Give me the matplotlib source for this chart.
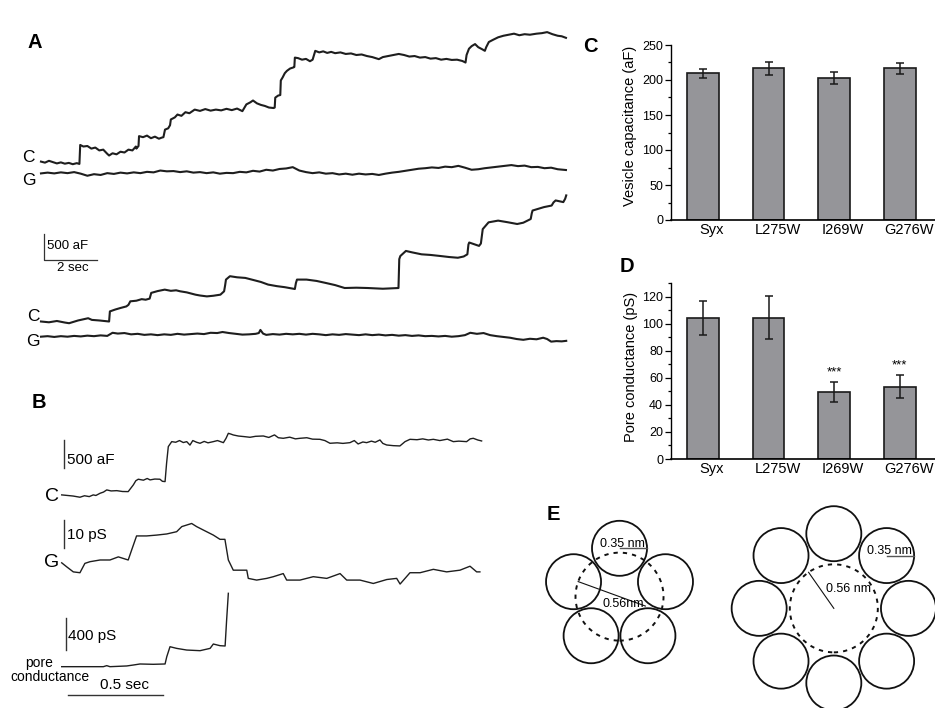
import matplotlib
matplotlib.use('Agg')
import matplotlib.pyplot as plt
import matplotlib.transforms as mtransforms
import numpy as np
from matplotlib.patches import Circle
from matplotlib.ticker import MultipleLocator

plt.rcParams['font.family'] = ['Liberation Sans', 'DejaVu Sans']

# ---------------- data ----------------
# Panel A, trace 1 (time in s, capacitance in aF, relative to start)
a1_c_t = [0.00, 0.15, 0.30, 0.45, 0.60, 0.75, 0.90, 1.05, 1.20, 1.35, 1.45, 1.48, 1.60, 1.75,
          1.90, 2.05, 2.20, 2.35, 2.50, 2.57, 2.70, 2.85, 3.00, 3.15, 3.30, 3.45, 3.58, 3.60,
          3.68, 3.70, 3.85, 4.00, 4.15, 4.30, 4.45, 4.55, 4.62, 4.68, 4.80, 4.87, 4.90, 5.05,
          5.15, 5.30, 5.45, 5.60, 5.80, 6.00, 6.20, 6.40, 6.60, 6.80, 7.00, 7.20, 7.40, 7.60,
          7.75, 7.90, 8.00, 8.15, 8.30, 8.45, 8.60, 8.78, 8.82, 8.84, 8.95, 9.03, 9.05, 9.12,
          9.20, 9.28, 9.40, 9.52, 9.56, 9.58, 9.70, 9.85, 10.00, 10.15, 10.25, 10.35, 10.50,
          10.65, 10.80, 10.95, 11.10, 11.30, 11.50, 11.70, 11.90, 12.10, 12.30, 12.50, 12.75,
          12.90, 13.10, 13.30, 13.50, 13.70, 13.90, 14.10, 14.30, 14.50, 14.70, 14.90, 15.10,
          15.30, 15.50, 15.70, 15.90, 16.02, 16.06, 16.15, 16.25, 16.38, 16.50, 16.65, 16.75,
          16.80, 16.90, 17.05, 17.25, 17.45, 17.65, 17.85, 18.05, 18.25, 18.45, 18.70, 18.90,
          19.10, 19.30, 19.50, 19.65, 19.81]
a1_c_af = [0, -20, 15, -10, -35, -15, -40, -25, -50, -30, -45, 320, 290, 300,
           250, 270, 215, 230, 150, 117, 160, 140, 190, 175, 230, 215, 290, 250,
           300, 490, 470, 500, 450, 480, 440, 460, 470, 615, 640, 700, 810, 850,
           905, 880, 950, 930, 1000, 975, 1010, 980, 1000, 985, 1015, 990, 1020, 970,
           1100, 1140, 1175, 1120, 1090, 1070, 1040, 1030, 1040, 1230, 1270, 1280, 1560, 1620,
           1700, 1745, 1790, 1810, 1820, 2000, 1990, 1960, 1975, 1930, 1960, 2130, 2100,
           2120, 2090, 2110, 2085, 2100, 2070, 2080, 2050, 2060, 2030, 2010, 1970,
           2010, 2030, 2050, 2070, 2050, 2020, 2030, 2000, 2010, 1980, 1990, 1960,
           1975, 1955, 1960, 1935, 1905, 2050, 2170, 2220, 2260, 2200, 2160, 2130,
           2200, 2300, 2340, 2390, 2420, 2440, 2460, 2430, 2450, 2440, 2460, 2470,
           2490, 2450, 2420, 2410, 2380]
a1_g_t = [0.0, 0.25, 0.5, 0.75, 1.0, 1.25, 1.5, 1.75, 2.0, 2.25, 2.5, 2.75, 3.0, 3.25, 3.5,
          3.75, 4.0, 4.25, 4.5, 4.75, 5.0, 5.25, 5.5, 5.75, 6.0, 6.25, 6.5, 6.75, 7.0, 7.25,
          7.5, 7.75, 8.0, 8.25, 8.5, 8.75, 9.0, 9.25, 9.5, 9.75, 10.0, 10.25, 10.5, 10.75,
          11.0, 11.25, 11.5, 11.75, 12.0, 12.25, 12.5, 12.75, 13.0, 13.25, 13.5, 13.75, 14.0,
          14.25, 14.5, 14.75, 15.0, 15.25, 15.5, 15.75, 16.0, 16.25, 16.5, 16.75, 17.0, 17.25,
          17.5, 17.75, 18.0, 18.25, 18.5, 18.75, 19.0, 19.25, 19.5, 19.81]
a1_g = [0, 15, 0, 20, 5, 25, -5, -45, -15, -30, 5, -10, 15, 0, 20,
        5, 30, 20, 55, 40, 45, 25, 40, 15, 25, 5, 20, -5, 10, 5,
        30, 20, 50, 35, 70, 55, 85, 95, 120, 55, 25, 5, 20, -5,
        5, -20, -5, -25, -5, -20, -10, -30, -5, 15, 30, 50, 70,
        90, 100, 115, 105, 130, 120, 145, 110, 70, 80, 100, 115, 130,
        145, 160, 140, 150, 120, 125, 100, 110, 80, 65]

# Panel A, trace 2
a2_c_t = [0, 0.3, 0.6, 0.9, 1.06, 1.4, 1.78, 1.92, 2.2, 2.57, 2.60, 2.8, 3.0, 3.22, 3.30, 3.37,
          3.6, 3.8, 3.95, 4.10, 4.16, 4.4, 4.67, 4.9, 5.1, 5.25, 5.5, 5.83, 6.0, 6.26, 6.5,
          6.77, 6.91, 6.95, 6.98, 7.13, 7.4, 7.71, 8.0, 8.3, 8.57, 8.9, 9.2, 9.58, 9.62, 9.66,
          10.02, 10.4, 10.74, 11.1, 11.46, 11.9, 12.33, 12.9, 13.49, 13.52, 13.56, 13.77, 14.0,
          14.36, 14.7, 15.08, 15.4, 15.73, 15.95, 16.09, 16.13, 16.16, 16.53, 16.60, 16.67,
          16.89, 17.25, 17.6, 17.97, 18.2, 18.48, 18.52, 18.55, 18.98, 19.27, 19.34, 19.42,
          19.71, 19.78, 19.82]
a2_c_af = [0, -15, 10, -20, -33, 20, 63, 31, 20, 0, 194, 230, 260, 290, 320, 388,
           400, 430, 419, 440, 550, 585, 613, 590, 600, 581, 560, 516, 500, 483, 495,
           516, 581, 700, 806, 871, 850, 838, 800, 760, 710, 680, 660, 625, 740, 806,
           806, 780, 742, 700, 644, 650, 644, 630, 644, 1200, 1259, 1357, 1330,
           1292, 1280, 1259, 1240, 1226, 1250, 1292, 1480, 1519, 1454, 1500, 1777,
           1907, 1940, 1910, 1875, 1900, 1971, 2080, 2134, 2200, 2230, 2290, 2328,
           2296, 2360, 2425]
a2_g_t = [0, 0.25, 0.5, 0.75, 1.0, 1.25, 1.5, 1.75, 2.0, 2.25, 2.5, 2.7, 2.9, 3.15, 3.4, 3.65,
          3.9, 4.15, 4.4, 4.65, 4.9, 5.15, 5.4, 5.65, 5.9, 6.15, 6.4, 6.65, 6.85, 7.1, 7.35,
          7.6, 7.85, 8.1, 8.22, 8.28, 8.38, 8.5, 8.75, 9.0, 9.25, 9.5, 9.75, 10.0, 10.25,
          10.5, 10.75, 11.0, 11.25, 11.5, 11.75, 12.0, 12.25, 12.5, 12.75, 13.0, 13.25, 13.5,
          13.75, 14.0, 14.25, 14.5, 14.75, 15.0, 15.25, 15.5, 15.75, 16.0, 16.2, 16.45, 16.7,
          16.95, 17.2, 17.45, 17.7, 17.95, 18.2, 18.45, 18.7, 18.95, 19.1, 19.25, 19.45,
          19.65, 19.82]
a2_g = [0, 10, -5, 10, 0, 15, 5, 20, 10, 25, 15, 75, 60, 70, 45, 55,
        35, 45, 30, 45, 35, 55, 40, 50, 60, 50, 75, 70, 90, 70, 55,
        40, 45, 55, 70, 130, 60, 35, 50, 40, 55, 45, 55, 40, 55,
        45, 30, 45, 35, 50, 40, 30, 45, 30, 40, 25, 35, 20,
        30, 15, 25, 10, 15, 5, 15, 0, 10, 30, 75, 55, 70,
        30, 10, -5, -20, -45, -60, -40, -50, -20, -45, -95, -85,
        -90, -80]

# Panel B (time in s)
b_c_t = [0, 0.03, 0.06, 0.096, 0.12, 0.145, 0.166, 0.18, 0.202, 0.22, 0.237, 0.26, 0.29, 0.32,
         0.35, 0.377, 0.39, 0.403, 0.43, 0.45, 0.465, 0.49, 0.517, 0.53, 0.544, 0.552, 0.561,
         0.579, 0.60, 0.62, 0.64, 0.658, 0.675, 0.69, 0.71, 0.728, 0.75, 0.77, 0.798, 0.82,
         0.851, 0.865, 0.877, 0.89, 0.903, 0.93, 0.96, 0.991, 1.02, 1.061, 1.09, 1.12, 1.14,
         1.166, 1.2, 1.23, 1.254, 1.29, 1.32, 1.359, 1.385, 1.412, 1.45, 1.48, 1.517, 1.54,
         1.56, 1.585, 1.605, 1.63, 1.65, 1.675, 1.69, 1.71, 1.745, 1.78, 1.807, 1.833, 1.87,
         1.9, 1.93, 1.956, 1.99, 2.03, 2.061, 2.09, 2.131, 2.15, 2.166, 2.19, 2.21]
b_c_af = [0, -10, -20, -41, -15, -30, 0, -10, 29, 50, 88, 70, 75, 60,
          58, 177, 250, 277, 260, 290, 265, 280, 277, 240, 235, 560, 853,
          941, 930, 960, 925, 941, 880, 960, 930, 912, 945, 920, 941, 960,
          923, 1000, 1088, 1075, 1059, 1040, 1030, 1018, 1035, 1041, 1015, 1060, 1010,
          1000, 1020, 990, 1000, 1010, 985, 982, 960, 912, 920, 910, 923, 960,
          900, 935, 923, 950, 930, 971, 910, 882, 870, 865, 941, 982, 975,
          990, 970, 982, 960, 985, 941, 950, 941, 990, 1000, 970, 953]
b_g_t = [0, 0.026, 0.061, 0.096, 0.122, 0.149, 0.202, 0.254, 0.298, 0.35, 0.368, 0.394, 0.447,
         0.5, 0.553, 0.605, 0.632, 0.684, 0.71, 0.745, 0.798, 0.833, 0.859, 0.877, 0.903,
         0.974, 0.982, 1.026, 1.079, 1.114, 1.166, 1.184, 1.254, 1.324, 1.395, 1.465, 1.5,
         1.57, 1.64, 1.711, 1.763, 1.781, 1.833, 1.886, 1.956, 2.026, 2.096, 2.149, 2.184, 2.201]
b_g_ps = [0, -1.4, -3.2, -3.5, -0.2, 0.4, 1.0, 1.0, 2.1, 1.0, 4.5, 9.5, 9.5,
          9.8, 10.2, 11.0, 12.8, 13.9, 12.8, 11.6, 9.8, 8.3, 8.3, 1.0, -2.6,
          -2.6, -5.5, -6.1, -5.5, -4.9, -3.8, -6.1, -6.1, -4.9, -5.5, -3.8, -6.1,
          -6.1, -7.3, -5.9, -5.5, -7.5, -3.5, -3.5, -2.3, -3.2, -2.6, -1.2, -3.2, -3.2]
b_p_t = [0, 0.219, 0.237, 0.254, 0.342, 0.377, 0.412, 0.482, 0.544, 0.553, 0.570, 0.605,
         0.658, 0.728, 0.781, 0.798, 0.833, 0.86, 0.868, 0.877]
b_p_ps = [0, 0, 13, 0, 9, 21, 34, 30, 34, 126, 252, 231, 210, 202, 231, 286, 265, 261, 589, 926]

# Panels C and D
mutants = ['Syx', 'L275W', 'I269W', 'G276W']
cap_mean = [209.5, 216.5, 203.0, 216.5]
cap_err = [6.7, 9.0, 8.8, 7.4]
pore_mean = [104.5, 104.5, 49.8, 53.5]
pore_err = [12.4, 16.0, 7.5, 8.6]
pore_sig = ['', '', '***', '***']

# Panel E (nm)
ring_n = [5, 8]
ring_radius = [0.615, 0.95]
subunit_r = 0.35
pore_r = 0.56

# ---------------- figure ----------------
W, H = 935, 708
fig = plt.figure(figsize=(W / 100, H / 100), dpi=100)


def px_axes(x0, y0, x1, y1):
    return fig.add_axes([x0 / W, 1 - y1 / H, (x1 - x0) / W, (y1 - y0) / H])


trace_col = '#1e1e1e'
bar_col = '#333333'

# --- A ---
axA = px_axes(20, 20, 580, 350)
axA.set_xlim(-0.792, 20.34)
axA.set_ylim(0, 6346)
axA.axis('off')
axA.plot(a1_c_t, np.array(a1_c_af) + 3623, color=trace_col, lw=1.5)
axA.plot(a1_g_t, np.array(a1_g) + 3396, color=trace_col, lw=1.5)
axA.plot(a2_c_t, np.array(a2_c_af) + 548, color=trace_col, lw=1.5)
axA.plot(a2_g_t, np.array(a2_g) + 256, color=trace_col, lw=1.5)
axA.plot([0.113, 0.113, 2.113], [2231, 1731, 1731], color=bar_col, lw=0.9)
axA.text(0.22, 2000, '500 aF', fontsize=9.5, ha='left', va='center')
axA.text(1.2, 1570, '2 sec', fontsize=9.5, ha='center', va='center')
for x, y, s in [(-0.47, 3711, 'C'), (-0.47, 3269, 'G'), (-0.30, 640, 'C'), (-0.30, 160, 'G')]:
    axA.text(x, y, s, fontsize=12.5, ha='center', va='center')

# --- B ---
axB = px_axes(20, 380, 500, 708)
axB.set_xlim(-0.2195, 2.3068)
axB.set_ylim(0, 11.59)
axB.axis('off')
c_gain, g_gain, p_gain = 1 / 500, 1 / 10, 1.12 / 400
axB.plot(b_c_t, np.array(b_c_af) * c_gain + 7.53, color=trace_col, lw=1.0)
axB.plot(b_g_t, np.array(b_g_ps) * g_gain + 5.13, color=trace_col, lw=1.0)
axB.plot(b_p_t, np.array(b_p_ps) * p_gain + 1.46, color=trace_col, lw=1.0)
axB.plot([0.0137, 0.0137], [8.47, 8.47 + 500 * c_gain], color=bar_col, lw=1.0)
axB.plot([0.012, 0.012], [5.64, 5.64 + 10 * g_gain], color=bar_col, lw=1.0)
axB.plot([0.021, 0.021], [2.05, 2.05 + 400 * p_gain], color=bar_col, lw=1.0)
axB.plot([0.0316, 0.5316], [0.46, 0.46], color=bar_col, lw=1.0)
axB.text(0.028, 8.76, '500 aF', fontsize=11, ha='left', va='center')
axB.text(0.026, 6.11, '10 pS', fontsize=11, ha='left', va='center')
axB.text(0.035, 2.53, '400 pS', fontsize=11, ha='left', va='center')
axB.text(0.328, 0.81, '0.5 sec', fontsize=11, ha='center', va='center')
axB.text(-0.053, 7.47, 'C', fontsize=14, ha='center', va='center')
axB.text(-0.053, 5.13, 'G', fontsize=14, ha='center', va='center')
axB.text(-0.12, 1.60, 'pore', fontsize=10, ha='center', va='center')
axB.text(-0.062, 1.11, 'conductance', fontsize=10, ha='center', va='center')


# --- C and D ---
def bar_panel(ax, mean, err, ymax, major, minor, ylabel, label_y, label_x):
    x = np.arange(len(mutants))
    ax.bar(x, mean, width=0.48, color='#959599', edgecolor='#1a1a1a', linewidth=1.2,
           yerr=err, capsize=2.6, error_kw=dict(elinewidth=1.1, capthick=1.1, ecolor='#1a1a1a'))
    ax.set_xlim(-0.492, 3.537)
    ax.set_ylim(0, ymax)
    ax.spines['top'].set_visible(False)
    ax.spines['right'].set_visible(False)
    ax.spines['left'].set_linewidth(1.0)
    ax.spines['bottom'].set_linewidth(1.2)
    ax.yaxis.set_major_locator(MultipleLocator(major))
    ax.yaxis.set_minor_locator(MultipleLocator(minor))
    ax.tick_params(axis='y', which='major', length=4, width=0.9, labelsize=9, pad=1.5)
    ax.tick_params(axis='y', which='minor', length=2, width=0.9)
    ax.tick_params(axis='x', length=0, labelsize=10.5, pad=2.5)
    ax.set_xticks(x)
    ax.set_xticklabels(mutants)
    shift = mtransforms.ScaledTranslation(0.09, 0, fig.dpi_scale_trans)
    for lab in ax.get_xticklabels():
        lab.set_transform(lab.get_transform() + shift)
    ax.set_ylabel(ylabel, fontsize=10.5)
    ax.yaxis.set_label_coords(label_x, label_y)
    ax.set_facecolor('none')


axC = px_axes(670.7, 45, 935, 220)
bar_panel(axC, cap_mean, cap_err, 250, 50, 25, 'Vesicle capacitance (aF)', 0.54, -0.128)

axD = px_axes(670.7, 283.3, 935, 459)
bar_panel(axD, pore_mean, pore_err, 130, 20, 10, 'Pore conductance (pS)', 0.526, -0.124)
for i, s in enumerate(pore_sig):
    if s:
        axD.text(i, pore_mean[i] + pore_err[i] + 2.5, s, fontsize=9.5, ha='center', va='bottom')

# --- E ---
axE = px_axes(510, 490, 935, 708)
axE.set_xlim(0, 5.407)
axE.set_ylim(0, 2.774)
axE.set_aspect('equal')
axE.axis('off')
centers = [(1.393, 1.417), (4.12, 1.268)]
for (cx, cy), n, R in zip(centers, ring_n, ring_radius):
    for k in range(n):
        a = np.pi / 2 + 2 * np.pi * k / n
        axE.add_patch(Circle((cx + R * np.cos(a), cy + R * np.sin(a)), subunit_r,
                             fill=False, lw=1.3, ec='#111111'))
    axE.add_patch(Circle((cx, cy), pore_r, fill=False, lw=1.4, ec='#111111',
                         linestyle=(0, (2.2, 2.6))))
    # subunit radius marker on the labelled subunit
    k_lab = 0 if n == 5 else n - 1
    a = np.pi / 2 + 2 * np.pi * k_lab / n
    sx, sy = cx + R * np.cos(a), cy + R * np.sin(a)
    axE.plot([sx, sx + subunit_r], [sy, sy], color='#555555', lw=1.0)
    axE.text(sx + 0.04, sy + 0.015, '0.35 nm', fontsize=9, ha='center', va='baseline')

# pore radius markers
(cx, cy) = centers[0]
ang = np.deg2rad(160)
axE.plot([cx - 0.35 * np.cos(ang), cx + pore_r * np.cos(ang)],
         [cy - 0.35 * np.sin(ang), cy + pore_r * np.sin(ang)], color='#111111', lw=0.8)
axE.text(cx + 0.05, cy - 0.095, '0.56nm', fontsize=9, ha='center', va='center')
(cx, cy) = centers[1]
ang = np.deg2rad(125)
axE.plot([cx, cx + pore_r * np.cos(ang)], [cy, cy + pore_r * np.sin(ang)],
         color='#111111', lw=0.8)
axE.text(cx + 0.185, cy + 0.24, '0.56 nm', fontsize=9, ha='center', va='center')

# panel letters
for x, y, s in [(35, 42, 'A'), (39, 403, 'B'), (590, 47, 'C'), (627, 267, 'D'), (553, 514, 'E')]:
    fig.text(x / W, 1 - y / H, s, fontsize=14.5, fontweight='bold', ha='center', va='center')

fig.savefig('out.png', dpi=100)
